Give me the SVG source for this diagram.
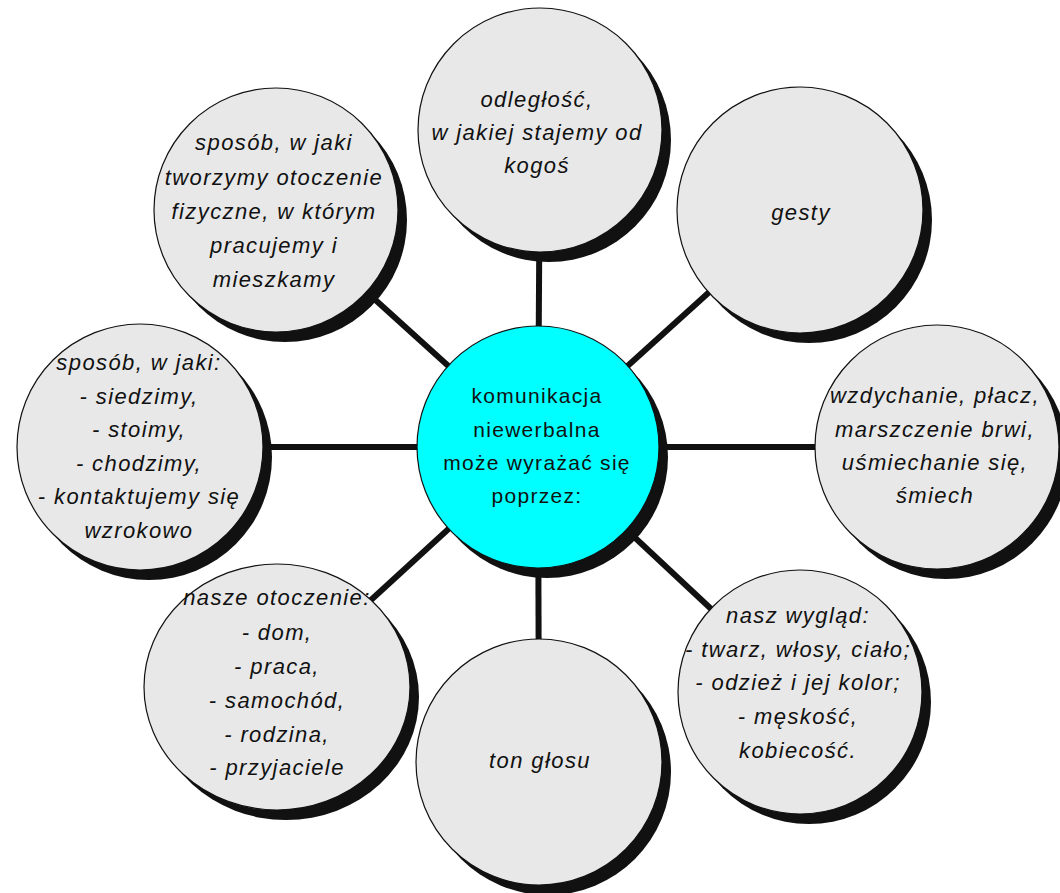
<svg xmlns="http://www.w3.org/2000/svg" width="1060" height="893" viewBox="0 0 1060 893">
<style>
.sh{fill:#111}
.bub{fill:#e8e8e8;stroke:#111;stroke-width:1.2}
.ctr{fill:#00ffff;stroke:#111;stroke-width:1.2}
.t{font-family:"Liberation Sans",Arial,sans-serif;font-size:22px;font-style:italic;letter-spacing:1.4px;fill:#111;text-anchor:middle}
.ct{font-family:"Liberation Sans",Arial,sans-serif;font-size:21px;letter-spacing:1.3px;fill:#111;text-anchor:middle}
.con line{stroke:#111;stroke-width:6}
</style>
<rect width="1060" height="893" fill="#fff"/>
<g id="connectors" class="con">
<line x1="538" y1="447" x2="540" y2="130"/>
<line x1="538" y1="447" x2="276" y2="210"/>
<line x1="538" y1="447" x2="800" y2="210"/>
<line x1="538" y1="447" x2="140" y2="447"/>
<line x1="538" y1="447" x2="937" y2="447"/>
<line x1="538" y1="447" x2="276" y2="687"/>
<line x1="538" y1="447" x2="539" y2="762"/>
<line x1="538" y1="447" x2="800" y2="692"/>
</g>
<g id="node-odleglosc">
<circle class="sh" cx="549" cy="140" r="122"/>
<circle class="bub" cx="540" cy="130" r="122"/>
<text class="t" x="537"><tspan x="537" y="107">odległość,</tspan><tspan x="537" y="140">w jakiej stajemy od</tspan><tspan x="537" y="173">kogoś</tspan></text>
</g>
<g id="node-otoczenie-fizyczne">
<circle class="sh" cx="285" cy="220" r="122"/>
<circle class="bub" cx="276" cy="210" r="122"/>
<text class="t"><tspan x="274" y="150">sposób, w jaki</tspan><tspan x="274" y="185">tworzymy otoczenie</tspan><tspan x="274" y="219">fizyczne, w którym</tspan><tspan x="274" y="253">pracujemy i</tspan><tspan x="274" y="287">mieszkamy</tspan></text>
</g>
<g id="node-gesty">
<circle class="sh" cx="809" cy="220" r="123"/>
<circle class="bub" cx="800" cy="210" r="123"/>
<text class="t" x="801" y="220">gesty</text>
</g>
<g id="node-postawa">
<circle class="sh" cx="149" cy="457" r="123"/>
<circle class="bub" cx="140" cy="447" r="123"/>
<text class="t"><tspan x="139" y="370">sposób, w jaki:</tspan><tspan x="139" y="404">- siedzimy,</tspan><tspan x="139" y="437">- stoimy,</tspan><tspan x="139" y="471">- chodzimy,</tspan><tspan x="139" y="504">- kontaktujemy się</tspan><tspan x="139" y="538">wzrokowo</tspan></text>
</g>
<g id="node-dzwieki">
<circle class="sh" cx="946" cy="457" r="122"/>
<circle class="bub" cx="937" cy="447" r="122"/>
<text class="t"><tspan x="935" y="403">wzdychanie, płacz,</tspan><tspan x="935" y="437">marszczenie brwi,</tspan><tspan x="935" y="470">uśmiechanie się,</tspan><tspan x="935" y="503">śmiech</tspan></text>
</g>
<g id="node-otoczenie">
<ellipse class="sh" cx="286" cy="697" rx="133" ry="123"/>
<ellipse class="bub" cx="277" cy="687" rx="133" ry="123"/>
<text class="t"><tspan x="277" y="605">nasze otoczenie:</tspan><tspan x="277" y="640">- dom,</tspan><tspan x="277" y="674">- praca,</tspan><tspan x="277" y="708">- samochód,</tspan><tspan x="277" y="742">- rodzina,</tspan><tspan x="277" y="775">- przyjaciele</tspan></text>
</g>
<g id="node-ton-glosu">
<circle class="sh" cx="548" cy="772" r="123"/>
<circle class="bub" cx="539" cy="762" r="123"/>
<text class="t" x="540" y="768">ton głosu</text>
</g>
<g id="node-wyglad">
<circle class="sh" cx="809" cy="702" r="122"/>
<circle class="bub" cx="800" cy="692" r="122"/>
<text class="t"><tspan x="798" y="623">nasz wygląd:</tspan><tspan x="798" y="657">- twarz, włosy, ciało;</tspan><tspan x="798" y="690">- odzież i jej kolor;</tspan><tspan x="798" y="724">- męskość,</tspan><tspan x="798" y="758">kobiecość.</tspan></text>
</g>
<g id="node-centrum">
<circle class="sh" cx="547" cy="457" r="121"/>
<circle class="ctr" cx="538" cy="447" r="121"/>
<text class="ct"><tspan x="537" y="403">komunikacja</tspan><tspan x="537" y="437">niewerbalna</tspan><tspan x="537" y="470">może wyrażać się</tspan><tspan x="537" y="503">poprzez:</tspan></text>
</g>
</svg>
